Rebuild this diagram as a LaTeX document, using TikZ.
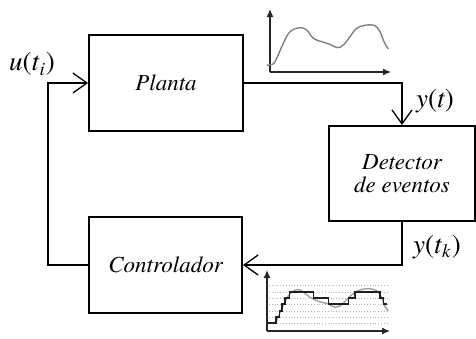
\documentclass[tikz,border=0pt]{standalone}
\usepackage{fontspec}
\setmainfont{texgyretermes}[Extension=.otf,UprightFont=*-regular,ItalicFont=*-italic,BoldFont=*-bold,BoldItalicFont=*-bolditalic]
\usetikzlibrary{arrows.meta}
\tikzset{>={Straight Barb[length=7pt,width=10pt]}}
\tikzset{bloco/.style={draw,line width=1pt,inner sep=0pt,align=center,font=\fontsize{11.5}{11.5}\selectfont\itshape}}
\tikzset{rotulo/.style={font=\fontsize{13.5}{15}\selectfont}}
\tikzset{eixo/.style={gray!30!black,line width=0.6pt,-{Latex[length=4pt,width=3.5pt]}}}
\tikzset{curva/.style={gray,line width=0.7pt}}

\begin{document}
\begin{tikzpicture}[x=0.5pt,y=-0.5pt]
\useasboundingbox (0,0) rectangle (476,338);
% blocos
\node[bloco,minimum width=77pt,minimum height=48pt] (planta) at (166,83) {Planta};
\node[bloco,minimum width=73pt,minimum height=47.5pt] (detector) at (402,173.5) {Detector\\de eventos};
\node[bloco,minimum width=76.5pt,minimum height=48pt] (control) at (165.5,265) {Controlador};
% ligacoes
\coordinate (fb) at (48,265);
\draw[->,line width=0.65pt] (planta.east) -| (detector.north);
\draw[->,line width=0.65pt] (detector.south) |- (control.east);
\draw[->,line width=0.65pt] (control.west) -- (fb) |- (planta.west);
\node[rotulo] (u) at (32,64) {\textit{u}(\textit{t}\textsubscript{\textit{i}})};
\node[rotulo] (y) at (435,101) {\textit{y}(\textit{t})};
\node[rotulo] (yk) at (437,247) {\textit{y}(\textit{t}\textsubscript{\textit{k}})};
% sinal continuo
\draw[eixo] (270,72) -- (270,9);
\draw[eixo] (270,72) -- (391,72);
\draw[curva] plot[smooth,tension=0.6] coordinates {(266.7,65) (272.7,64.3) (276.7,58.3) (283.3,43.3) (290,31.7) (300,27.7) (306.7,30) (313.3,38.3) (321.7,41.7) (330,44.3) (337.3,47.7) (343.3,45) (350,36.7) (356.7,28.3) (366.7,25) (375,25.7) (380,31.7) (384,41.7) (388.3,49)};
% sinal amostrado
\foreach \l in {285,292,298,304,311,317,323}
\draw[gray!60,densely dotted,line width=0.4pt] (269,\l) -- (388,\l);
\draw[eixo] (267,331) -- (267,270);
\draw[eixo] (267,331) -- (390,331);
\draw[curva,gray!75] plot[smooth,tension=0.6] coordinates {(267.3,323) (275,322.3) (280,313) (285,301.3) (291.7,292) (298.3,289.7) (303.3,292) (310,297.3) (318.3,301.3) (328.3,304) (335,307.3) (341.7,304.7) (348.3,298) (356.7,291.3) (366.7,288.7) (376.7,290.7) (381.7,298) (385,306.3) (388.3,310.7)};
\draw[gray!25!black,line width=0.8pt] (267,323) -- (276,323) -- (276,317) -- (279.3,317) -- (279.3,310.7) -- (281.7,310.7) -- (281.7,304) -- (285,304) -- (285,298) -- (289.3,298) -- (289.3,292) -- (313.3,292) -- (313.3,298) -- (328.3,298) -- (328.3,304) -- (348.3,304) -- (348.3,298) -- (355,298) -- (355,292) -- (380,292) -- (380,298) -- (383.3,298) -- (383.3,304) -- (386.7,304);
\end{tikzpicture}
\end{document}
